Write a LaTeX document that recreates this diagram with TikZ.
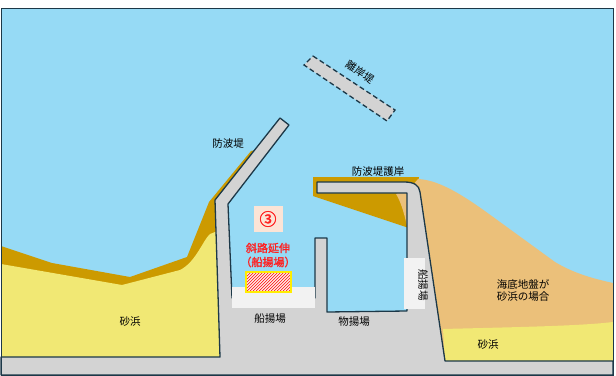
\documentclass[tikz,border=0pt]{standalone}
\usepackage{fontspec}
\newfontfamily\jp{Noto Sans CJK JP}
\newfontfamily\jpbold[FakeBold=1.6]{Noto Sans CJK JP}
\definecolor{sea}{RGB}{150,218,245}
\definecolor{quay}{RGB}{211,211,211}
\definecolor{sandy}{RGB}{241,232,116}
\definecolor{gold}{RGB}{204,154,0}
\definecolor{seabed}{RGB}{235,192,122}
\definecolor{edge}{RGB}{28,56,72}
\definecolor{pale}{RGB}{242,242,242}
\definecolor{blush}{RGB}{252,228,214}
\definecolor{signred}{RGB}{255,32,32}
\begin{document}
\begin{tikzpicture}[x=1pt,y=-1pt,
  outline/.style={draw=edge, line width=1.3pt, line join=round},
  lbl/.style={font=\jp\fontsize{10.5}{12}\selectfont, text=black, inner sep=0pt},
  redlbl/.style={font=\jpbold\fontsize{11}{13}\selectfont, text=signred, inner sep=0pt}]
\useasboundingbox (0,0) rectangle (616,375);
\fill[white] (0,0) rectangle (616,375);

% sea
\fill[sea] (1,8) rectangle (613,375);

% left beach: dark band and dry sand
\fill[gold] (1,246) -- (52,263) -- (130,277) -- (187,257) -- (209,202) -- (251,151)
  -- (256,150) -- (222,205) -- (224,357) -- (1,357) -- cycle;
\fill[sandy] (1,264) -- (122,285) -- (180,270)
  .. controls (196,262) and (203,240) .. (210,234) -- (220,230) -- (224,357) -- (1,357) -- cycle;

% band along the revetment
\fill[gold] (313,177) -- (419,177) -- (409,228) -- (313,196) -- cycle;

% right side: seabed sand and beach
\fill[seabed] (418,179) .. controls (442,180) and (470,200) .. (500,222)
  -- (555,262) .. controls (575,274) and (595,279) .. (613,283)
  -- (613,361) -- (445,361) -- (407,226)
  .. controls (404,212) and (400,200) .. (396,194) -- (412,186) -- cycle;
\fill[sandy] (443,329) .. controls (520,327) and (580,326) .. (613,322)
  -- (613,361) -- (445,361) -- cycle;

% breakwaters, quays and land
\filldraw[fill=quay, outline] (1,357) -- (220,357) -- (215,200) -- (280,118) -- (289,125)
  -- (228,204) -- (232,298) -- (315,298) -- (315,238) -- (327,238) -- (327,312)
  -- (407,311) -- (407,193) -- (317,193) -- (317,182) -- (404,182)
  .. controls (414,182) and (419,185) .. (420,192)
  -- (445,361) -- (613,361) -- (613,375) -- (1,375) -- cycle;

% detached breakwater
\filldraw[fill=quay, draw=edge, line width=1.3pt, dashed, dash pattern=on 5pt off 3pt]
  (313,56) -- (395,110) -- (387,121) -- (304,65) -- cycle;

% frame
\draw[edge, line width=0.9pt] (1,8) rectangle (613,375);

% slipways
\fill[pale] (232,287) rectangle (315,308);
\fill[pale] (404,258) rectangle (425,309);

% extension marker
\node[fill=blush, minimum width=29pt, minimum height=26pt, inner sep=0pt] (marker) at (268,219) {};
\node[font=\jpbold\fontsize{17}{17}\selectfont, text=signred, inner sep=0pt] (num) at (268,219) {③};
\node[redlbl] (ext1) at (268,248) {斜路延伸};
\node[redlbl] (ext2) at (268,262) {（船揚場）};
\begin{scope}
  \clip (246,272) rectangle (291,292);
  \fill[white!70!blush] (246,272) rectangle (291,292);
  \foreach \i in {-30,-27,...,50}
    \draw[signred, line width=0.7pt] (246+\i,292) -- (266+\i,272);
\end{scope}
\draw[yellow!95!orange, line width=1.3pt] (246,272) rectangle (291,292);

% labels
\node[lbl] (bw) at (228,144) {防波堤};
\node[lbl] (rev) at (378,172) {防波堤護岸};
\node[lbl, rotate=-33] (det) at (360,72) {離岸堤};
\node[lbl] (slip) at (270,319) {船揚場};
\node[lbl] (land) at (354,322) {物揚場};
\node[lbl, rotate=-90] (slip2) at (423,285) {船揚場};
\node[lbl, align=center] (bed) at (523,290) {海底地盤が\\砂浜の場合};
\node[lbl] (beachR) at (488,345) {砂浜};
\node[lbl] (beachL) at (130,322) {砂浜};
\end{tikzpicture}
\end{document}
